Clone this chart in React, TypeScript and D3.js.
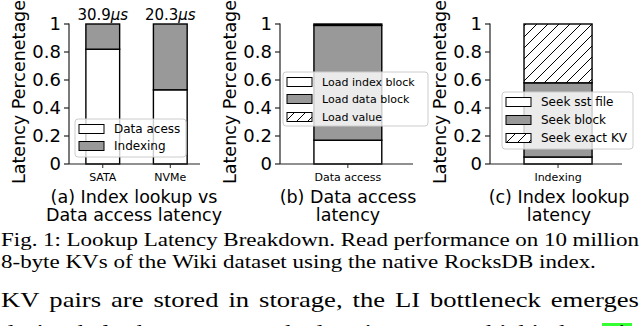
import React, { useEffect, useRef } from 'react';
import * as d3 from 'd3';

// (a) index lookup vs data access
const storageTypes = ['SATA', 'NVMe'];
const dataAccessShare = [0.82, 0.53];
const indexingShare = [0.18, 0.47];
const totalLatency = ['30.9', '20.3'];

// (b) data access breakdown
const dataAccessCategory = ['Data access'];
const loadIndexBlock = [0.17];
const loadDataBlock = [0.82];
const loadValue = [0.01];

// (c) index lookup breakdown
const indexingCategory = ['Indexing'];
const seekSstFile = [0.05];
const seekBlock = [0.53];
const seekExactKV = [0.42];

const yTicks = [0, 0.2, 0.4, 0.6, 0.8, 1];

const captionLines = [
  'Fig. 1: Lookup Latency Breakdown. Read performance on 10 million',
  '8-byte KVs of the Wiki dataset using the native RocksDB index.',
  'KV pairs are stored in storage, the LI bottleneck emerges',
  'during the lookup process as the data size grows, which is shown in',
];

const GRAY = '#999999';
const SANS = 'DejaVu Sans, sans-serif';
const SERIF = 'Liberation Serif, Times New Roman, serif';

type Series = { name: string; values: number[]; fill: string };

type PanelProps = {
  x0: number;
  x1: number;
  domain: [number, number];
  categories: string[];
  series: Series[];
  topLabels?: string[];
  legend: { x: number; y: number; w: number; h: number; fontSize: number; rowY: number[] };
  title: string[];
  titleX: number;
};

const yScale = d3.scaleLinear().domain([0, 1]).range([164, 24]);

function Panel({ x0, x1, domain, categories, series, topLabels, legend, title, titleX }: PanelProps) {
  const x = d3.scaleLinear().domain(domain).range([x0, x1]);
  const barW = x(0.25) - x(-0.25);
  const stack = d3.stack<number>().keys(series.map((_, i) => String(i))).value((d, k) => series[+k].values[d]);
  const layers = stack(categories.map((_, i) => i));

  return (
    <g>
      {layers.map((layer, li) =>
        layer.map((seg, ci) => (
          <rect
            key={li + '-' + ci}
            x={x(ci) - barW / 2}
            y={yScale(seg[1])}
            width={barW}
            height={yScale(seg[0]) - yScale(seg[1])}
            fill={series[li].fill}
            stroke="#000"
            strokeWidth={1.4}
          />
        ))
      )}
      {topLabels &&
        topLabels.map((t, i) => (
          <text key={t} x={x(i)} y={20} textAnchor="middle" fontFamily={SANS} fontSize={15}>
            {t}
            <tspan fontStyle="italic">μs</tspan>
          </text>
        ))}

      {/* axes */}
      <line x1={x0} x2={x0} y1={yScale(1) - 0.5} y2={yScale(0)} stroke="#222" strokeWidth={1.2} />
      <line x1={x0} x2={x1} y1={yScale(0)} y2={yScale(0)} stroke="#222" strokeWidth={1.2} />
      {yTicks.map((t) => (
        <g key={t}>
          <line x1={x0 - 5} x2={x0} y1={yScale(t)} y2={yScale(t)} stroke="#222" strokeWidth={1.2} />
          <text x={x0 - 8} y={yScale(t)} dy="0.36em" textAnchor="end" fontFamily={SANS} fontSize={18}>
            {String(t)}
          </text>
        </g>
      ))}
      {categories.map((c, i) => (
        <g key={c}>
          <line x1={x(i)} x2={x(i)} y1={yScale(0)} y2={yScale(0) + 4} stroke="#222" strokeWidth={1} />
          <text x={x(i)} y={181} textAnchor="middle" fontFamily={SANS} fontSize={11}>
            {c}
          </text>
        </g>
      ))}
      <text
        transform={`translate(${x0 - 44},${(yScale(0) + yScale(1)) / 2 - 2}) rotate(-90)`}
        textAnchor="middle"
        fontFamily={SANS}
        fontSize={17.5}
      >
        Latency Percenetage
      </text>
      {title.map((t, i) => (
        <text key={t} x={titleX} y={203 + i * 18} textAnchor="middle" fontFamily={SANS} fontSize={17.5}>
          {t}
        </text>
      ))}

      {/* legend */}
      <rect
        x={legend.x}
        y={legend.y}
        width={legend.w}
        height={legend.h}
        rx={3}
        fill="#fff"
        fillOpacity={0.8}
        stroke="#cccccc"
        strokeWidth={1}
      />
      {series.map((s, i) => (
        <g key={s.name}>
          <rect x={legend.x + 4} y={legend.rowY[i] - 4.5} width={25} height={9} fill={s.fill} stroke="#000" strokeWidth={1} />
          <text x={legend.x + 39} y={legend.rowY[i]} dy="0.36em" fontFamily={SANS} fontSize={legend.fontSize}>
            {s.name}
          </text>
        </g>
      ))}
    </g>
  );
}

export default function App() {
  const captionRef = useRef<SVGGElement>(null);

  useEffect(() => {
    const g = d3.select(captionRef.current);
    g.selectAll('*').remove();
    const sx = 1.21;
    const specs = [
      { text: captionLines[0], y: 246, size: 19, justify: true },
      { text: captionLines[1], y: 268, size: 19, justify: false },
      { text: captionLines[2], y: 307, size: 22, justify: true },
      { text: captionLines[3], y: 339, size: 22, justify: true },
    ];
    specs.forEach((s) => {
      const words = s.text.split(' ');
      const nodes = words.map((w) =>
        g.append('text').attr('x', 0).attr('y', s.y).attr('font-family', SERIF).attr('font-size', s.size).attr('fill', '#000').text(w)
      );
      const widths = nodes.map((n) => (n.node() as SVGTextElement).getComputedTextLength() * sx);
      const total = d3.sum(widths);
      const gap = s.justify ? (639 - 1 - total) / (words.length - 1) : s.size * 0.25 * sx;
      let cx = 1;
      nodes.forEach((n, i) => {
        n.attr('transform', `translate(${cx},0) scale(${sx},1)`);
        cx += widths[i] + gap;
      });
    });
  }, []);

  return (
    <svg width={640} height={326} style={{ position: 'absolute', left: 0, top: 0, background: '#fff' }}>
      <defs>
        <pattern id="hatch" patternUnits="userSpaceOnUse" width={11} height={11}>
          <rect width={11} height={11} fill="#fff" />
          <path d="M0,11 L11,0 M-3,3 L3,-3 M8,14 L14,8" stroke="#000" strokeWidth={1} />
        </pattern>
      </defs>
      <rect width={640} height={326} fill="#fff" />

      <Panel
        x0={69}
        x1={200}
        domain={[-0.5, 1.44]}
        categories={storageTypes}
        series={[
          { name: 'Data acess', values: dataAccessShare, fill: '#fff' },
          { name: 'Indexing', values: indexingShare, fill: GRAY },
        ]}
        topLabels={totalLatency}
        legend={{ x: 75, y: 119, w: 111, h: 38, fontSize: 12, rowY: [129, 146] }}
        title={['(a) Index lookup vs', 'Data access latency']}
        titleX={134}
      />
      <Panel
        x0={280}
        x1={413}
        domain={[-0.5, 0.48]}
        categories={dataAccessCategory}
        series={[
          { name: 'Load index block', values: loadIndexBlock, fill: '#fff' },
          { name: 'Load data block', values: loadDataBlock, fill: GRAY },
          { name: 'Load value', values: loadValue, fill: 'url(#hatch)' },
        ]}
        legend={{ x: 283, y: 72, w: 145, h: 54, fontSize: 11, rowY: [82, 99, 117] }}
        title={['(b) Data access', 'latency']}
        titleX={348}
      />
      <Panel
        x0={490}
        x1={622}
        domain={[-0.5, 0.47]}
        categories={indexingCategory}
        series={[
          { name: 'Seek sst file', values: seekSstFile, fill: '#fff' },
          { name: 'Seek block', values: seekBlock, fill: GRAY },
          { name: 'Seek exact KV', values: seekExactKV, fill: 'url(#hatch)' },
        ]}
        legend={{ x: 502, y: 92, w: 131, h: 57, fontSize: 12, rowY: [102, 120, 138] }}
        title={['(c) Index lookup', 'latency']}
        titleX={559}
      />

      <rect x={602} y={323} width={30} height={4} fill="#33ff33" />
      <g ref={captionRef} />
    </svg>
  );
}
